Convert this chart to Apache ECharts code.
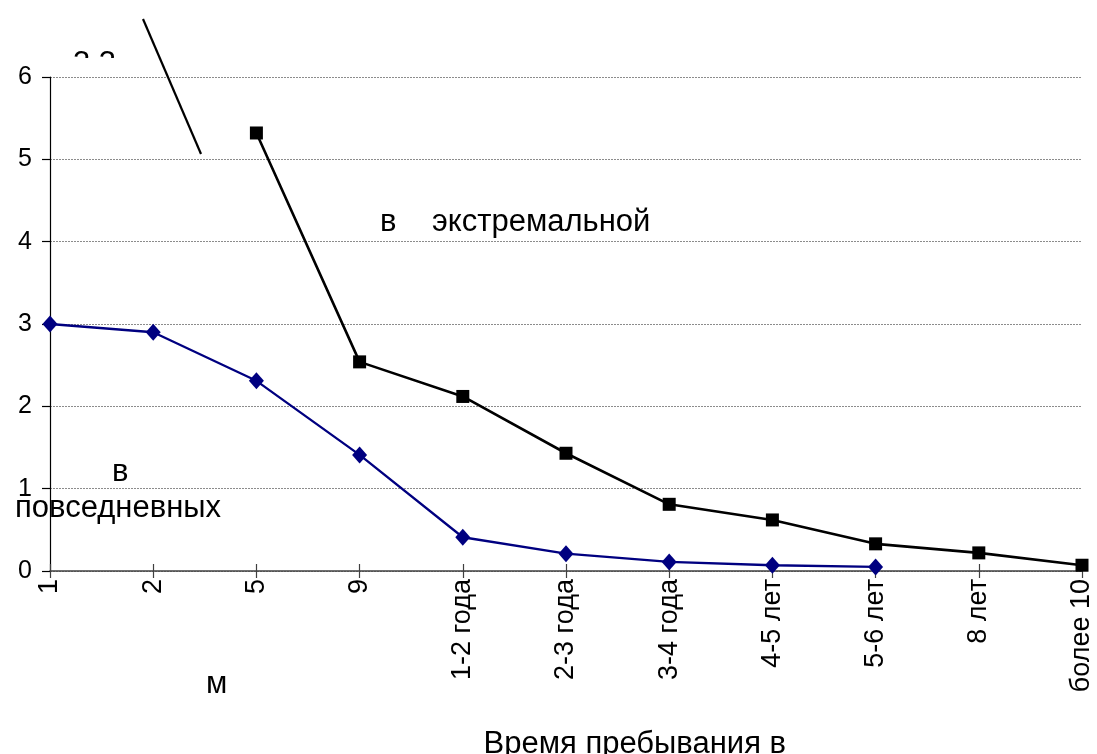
<!DOCTYPE html>
<html>
<head>
<meta charset="utf-8">
<script src="https://cdn.jsdelivr.net/npm/echarts@6/dist/echarts.min.js"></script>
<style>
html,body{margin:0;padding:0;background:#fff;}
#chart{width:1097px;height:754px;}
</style>
</head>
<body>
<div id="chart"></div>
<script>
const categories = ['1', '2', '5', '9', '1-2 года', '2-3 года', '3-4 года', '4-5 лет', '5-6 лет', '8 лет', 'более 10'];
const extremeValues = [null, null, 5.32, 2.54, 2.12, 1.43, 0.81, 0.62, 0.33, 0.22, 0.07];
const everydayValues = [3.0, 2.9, 2.31, 1.41, 0.41, 0.21, 0.11, 0.07, 0.05, null, null];
const yTicks = [0, 1, 2, 3, 4, 5, 6];

const FONT = '"Liberation Sans", Arial, sans-serif';
const chart = echarts.init(document.getElementById('chart'), null, {renderer: 'canvas'});

const option = {
  backgroundColor: '#ffffff',
  animation: false,
  grid: {left: 50, right: 15, top: 77, bottom: 183, containLabel: false},
  xAxis: [
    {
      type: 'category', data: categories, boundaryGap: false, position: 'bottom',
      axisLine: {show: true, lineStyle: {color: '#404040', width: 1.5}},
      axisTick: {show: true, inside: false, length: 7, lineStyle: {color: '#404040', width: 1.2}},
      axisLabel: {rotate: 90, interval: 0, margin: 8, fontSize: 27, color: '#000', fontFamily: FONT},
      splitLine: {show: false}
    },
    {
      type: 'category', data: categories, boundaryGap: false, position: 'bottom',
      axisLine: {show: false},
      axisTick: {show: true, inside: true, length: 7, lineStyle: {color: '#404040', width: 1.2}},
      axisLabel: {show: false},
      splitLine: {show: false}
    }
  ],
  yAxis: {
    type: 'value', min: yTicks[0], max: yTicks[yTicks.length - 1], interval: 1,
    axisLine: {show: true, lineStyle: {color: '#000', width: 1.2}},
    axisTick: {show: true, length: 8, lineStyle: {color: '#000', width: 1.2}},
    axisLabel: {margin: 18, fontSize: 25, color: '#000', fontFamily: FONT},
    splitLine: {show: true, lineStyle: {color: '#8c8c8c', type: [2, 1], width: 1}}
  },
  series: [
    {
      name: 'в экстремальной', type: 'line', xAxisIndex: 0, data: extremeValues,
      symbol: 'rect', symbolSize: 13,
      lineStyle: {color: '#000', width: 2.6},
      itemStyle: {color: '#000'},
      z: 3
    },
    {
      name: 'в повседневных', type: 'line', xAxisIndex: 0, data: everydayValues,
      symbol: 'diamond', symbolSize: [15, 17],
      lineStyle: {color: '#000080', width: 2.3},
      itemStyle: {color: '#000080'},
      z: 4
    }
  ],
  graphic: [
    {type: 'line', shape: {x1: 143, y1: 19, x2: 201, y2: 154}, style: {stroke: '#000', lineWidth: 2.2}, z: 10},
    {type: 'text', x: 73, y: 64, style: {text: '3.3', font: '31px ' + FONT, fill: '#000', verticalAlign: 'middle'}, z: 10},
    {type: 'rect', shape: {x: 60, y: 58, width: 70, height: 18}, style: {fill: '#fff'}, z: 11},
    {type: 'text', x: 380, y: 222, style: {text: 'в', font: '31px ' + FONT, fill: '#000', verticalAlign: 'middle'}, z: 10},
    {type: 'text', x: 432, y: 222, style: {text: 'экстремальной', font: '31px ' + FONT, fill: '#000', verticalAlign: 'middle'}, z: 10},
    {type: 'text', x: 112, y: 472, style: {text: 'в', font: '31px ' + FONT, fill: '#000', verticalAlign: 'middle'}, z: 10},
    {type: 'text', x: 15, y: 508, style: {text: 'повседневных', font: '31px ' + FONT, fill: '#000', verticalAlign: 'middle'}, z: 10},
    {type: 'text', x: 206, y: 684, style: {text: 'м', font: '31px ' + FONT, fill: '#000', verticalAlign: 'middle'}, z: 10},
    {type: 'text', x: 786, y: 744, style: {text: 'Время пребывания в', font: '31px ' + FONT, fill: '#000', align: 'right', verticalAlign: 'middle'}, z: 10}
  ]
};
chart.setOption(option);
</script>
</body>
</html>
